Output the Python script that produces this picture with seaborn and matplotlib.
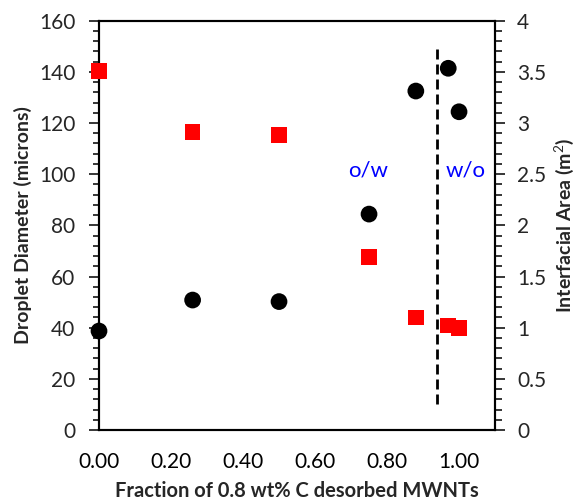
import matplotlib
matplotlib.use("Agg")
import matplotlib.pyplot as plt
import seaborn as sns
import pandas as pd
from matplotlib.ticker import MultipleLocator, FuncFormatter

# ---- data ----
fraction = [0.0, 0.26, 0.50, 0.75, 0.88, 0.97, 1.00]
droplet_diameter = [38.7, 50.8, 50.2, 84.4, 132.5, 141.4, 124.4]
interfacial_area = [3.51, 2.91, 2.88, 1.69, 1.10, 1.02, 1.00]
transition_x = [0.94, 0.94]
transition_y = [10, 151]
region_labels = ["o/w", "w/o"]
region_x = [0.747, 1.017]
region_y = [101.6, 101.6]

sns.set_style("white")
plt.rcParams['font.family'] = ['Lato', 'DejaVu Sans']
plt.rcParams['mathtext.fontset'] = 'custom'
plt.rcParams['mathtext.rm'] = 'Lato'
plt.rcParams['mathtext.bf'] = 'Lato:bold'

df = pd.DataFrame({"fraction": fraction, "diameter": droplet_diameter, "area": interfacial_area})

fig = plt.figure(figsize=(5.79, 5.01), dpi=100)
ax = fig.add_axes([0.171, 0.1417, 0.684, 0.817])
ax2 = ax.twinx()

sns.scatterplot(data=df, x="fraction", y="diameter", ax=ax, color="black", marker="o",
                s=145, edgecolor="none", zorder=5, legend=False, clip_on=False)
sns.scatterplot(data=df, x="fraction", y="area", ax=ax2, color="#ff0000", marker="s",
                s=128, edgecolor="none", zorder=5, legend=False, clip_on=False)

ax.plot(transition_x, transition_y, color="black", lw=2, dashes=(3.6, 1.8), zorder=2)
for t, xx, yy in zip(region_labels, region_x, region_y):
    ax.text(xx, yy, t, color="#0000ff", fontsize=16, ha="center", va="center")

ax.set_xlim(0, 1.1)
ax.set_ylim(0, 160)
ax2.set_ylim(0, 4)

ax.xaxis.set_major_locator(MultipleLocator(0.2))
ax.xaxis.set_minor_locator(MultipleLocator(0.04))
ax.yaxis.set_major_locator(MultipleLocator(20))
ax.yaxis.set_minor_locator(MultipleLocator(4))
ax2.yaxis.set_major_locator(MultipleLocator(0.5))
ax2.yaxis.set_minor_locator(MultipleLocator(0.1))

ax.xaxis.set_major_formatter(FuncFormatter(lambda v, p: f"{v:.2f}" if v <= 1.0001 else ""))
ax.yaxis.set_major_formatter(FuncFormatter(lambda v, p: f"{v:g}"))
ax2.yaxis.set_major_formatter(FuncFormatter(lambda v, p: f"{v:g}"))

for a in (ax, ax2):
    for s in a.spines.values():
        s.set_color("black")
        s.set_linewidth(1.5)
        s.set_visible(True)

ax.tick_params(axis="x", which="major", direction="out", length=7, width=1.3, labelsize=15, pad=9, colors="black")
ax.tick_params(axis="x", which="minor", direction="out", length=5, width=1.3)
ax.tick_params(axis="y", which="major", direction="out", length=7, width=1.3, labelsize=15, pad=10, left=True)
ax.tick_params(axis="y", which="minor", direction="out", length=4.5, width=1.3, left=True)
ax2.tick_params(axis="y", which="major", direction="out", length=7, width=1.3, labelsize=15, pad=9, right=True)
ax2.tick_params(axis="y", which="minor", direction="out", length=5, width=1.3, right=True)

ax.set_xlabel("Fraction of 0.8 wt% C desorbed MWNTs", fontsize=14.5, fontweight="bold", labelpad=6)
ax.set_ylabel("Droplet Diameter (microns)", fontsize=14, fontweight="bold", labelpad=5)
ax2.set_ylabel(r"Interfacial Area (m$^{\mathrm{2}}$)", fontsize=14, fontweight="bold", labelpad=4)

fig.savefig("out.png", dpi=100)
